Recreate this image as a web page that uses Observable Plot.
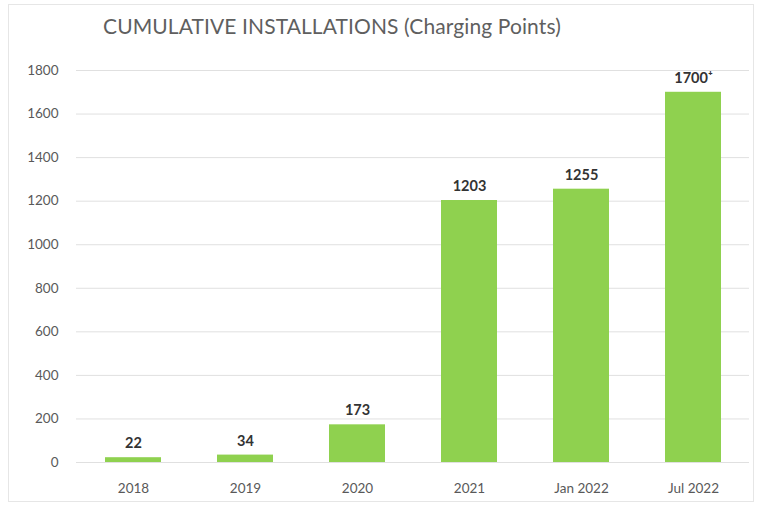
<!DOCTYPE html>
<html><head><meta charset="utf-8">
<script src="https://cdn.jsdelivr.net/npm/d3@7"></script>
<script src="https://cdn.jsdelivr.net/npm/@observablehq/plot@0.6"></script>
<style>
body{margin:0;background:#fff;font-family:Lato,"Open Sans",sans-serif;}
#frame{position:absolute;left:8px;top:4px;width:744px;height:496px;border:1px solid #e6e6e6;}
#title{position:absolute;left:103px;top:13px;font-size:21px;color:#5f5f5f;letter-spacing:0.1px;}
#chart{position:absolute;left:0;top:50px;}
</style></head>
<body>
<div id="frame"></div>
<div id="title">CUMULATIVE INSTALLATIONS (Charging Points)</div>
<div id="chart"></div>
<script>
const categories = ["2018","2019","2020","2021","Jan 2022","Jul 2022"];
const values = [22, 34, 173, 1203, 1255, 1700];
const valueLabels = ["22","34","173","1203","1255","1700\u207A"];
const yTicks = [0,200,400,600,800,1000,1200,1400,1600,1800];

const data = categories.map((c,i)=>({cat:c, value:values[i], label:valueLabels[i]}));

const chart = Plot.plot({
  width: 759,
  height: 458,
  marginLeft: 76,
  marginRight: 10,
  marginTop: 20,
  marginBottom: 46,
  style: {fontFamily: "Lato, 'Open Sans', sans-serif", fontSize: "13.5px", color: "#595959", background: "transparent"},
  x: {domain: categories, paddingInner: 0.5, paddingOuter: 0.25, label: null, tickSize: 0, tickPadding: 21},
  y: {domain: [0,1800], ticks: yTicks, label: null, tickSize: 0, tickPadding: 18, tickFormat: d=>String(d)},
  marks: [
    Plot.gridY(yTicks, {stroke: "#e0e0e0", strokeOpacity: 1}),
    Plot.barY(data, {x: "cat", y: "value", fill: "#8fd14f"}),
    Plot.text(data, {x: "cat", y: "value", text: "label", dy: -14, fontWeight: "bold", fontSize: 14.5, fill: "#333"})
  ]
});
document.getElementById("chart").appendChild(chart);
</script>
</body></html>
